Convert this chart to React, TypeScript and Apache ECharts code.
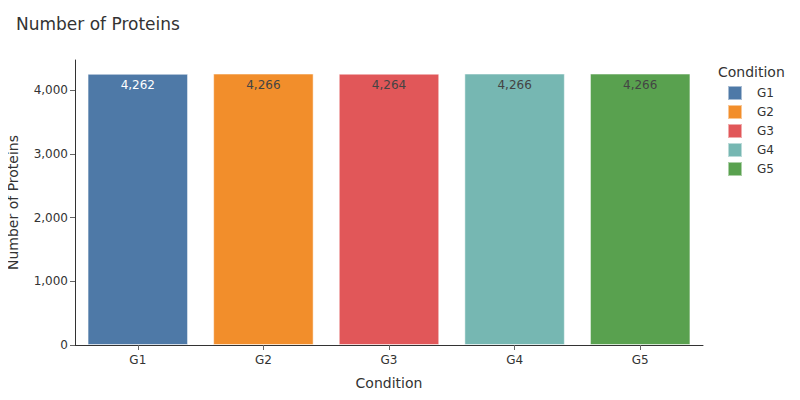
import React, { useEffect, useRef } from "react";
import * as echarts from "echarts";

const categories = ["G1", "G2", "G3", "G4", "G5"];
const values = [4262, 4266, 4264, 4266, 4266];
const colors = ["#4E79A7", "#F28E2B", "#E15759", "#76B7B2", "#59A14F"];
const labelColors = ["#ffffff", "#444444", "#444444", "#444444", "#444444"];
const yTicks = [0, 1000, 2000, 3000, 4000];
const yMax = 4479;

const FONT = "DejaVu Sans";

export default function App() {
  const ref = useRef<HTMLDivElement>(null);
  useEffect(() => {
    if (!ref.current) return;
    const chart = echarts.init(ref.current, undefined, { renderer: "svg" });
    const series = categories.map((c, i) => ({
      name: c,
      type: "bar",
      stack: "all",
      barWidth: "80%",
      data: categories.map((_, j) => (j === i ? values[i] : "-")),
      itemStyle: {
        color: colors[i],
        borderColor: "rgba(255,255,255,0.5)",
        borderWidth: 1,
      },
      label: {
        show: true,
        position: "insideTop",
        distance: 5,
        color: labelColors[i],
        fontFamily: FONT,
        fontSize: 12,
        formatter: (p: any) => Number(p.value).toLocaleString("en-US"),
      },
    }));
    chart.setOption({
      animation: false,
      textStyle: { fontFamily: FONT },
      title: {
        text: "Number of Proteins",
        left: 16,
        top: 15,
        padding: 0,
        textStyle: { fontFamily: FONT, fontSize: 17, fontWeight: "normal", color: "#333" },
      },
      legend: {
        orient: "vertical",
        left: 722,
        top: 80,
        icon: "rect",
        itemWidth: 14,
        itemHeight: 14,
        itemGap: 3,
        data: categories,
        textStyle: { fontFamily: FONT, fontSize: 12, color: "#333", padding: [0, 0, 0, 10], lineHeight: 14 },
      },
      graphic: [
        {
          type: "text",
          left: 718,
          top: 65,
          style: { text: "Condition", font: `14px "${FONT}"`, fill: "#333" },
        },
      ],
      grid: { left: 75, right: 97, top: 60, bottom: 55, containLabel: false, outerBoundsMode: "none" },
      xAxis: {
        type: "category",
        data: categories,
        name: "Condition",
        nameLocation: "middle",
        nameGap: 31,
        nameTextStyle: { fontFamily: FONT, fontSize: 14, color: "#333" },
        axisLine: { show: true, lineStyle: { color: "#333", width: 1 } },
        axisTick: { show: true, alignWithLabel: true, length: 5, lineStyle: { color: "#666" } },
        axisLabel: { fontFamily: FONT, fontSize: 12, color: "#333", margin: 9 },
        splitLine: { show: false },
      },
      yAxis: {
        type: "value",
        min: 0,
        max: yMax,
        name: "Number of Proteins",
        nameLocation: "middle",
        nameGap: 55,
        nameTextStyle: { fontFamily: FONT, fontSize: 14, color: "#333" },
        axisLine: { show: true, lineStyle: { color: "#333", width: 1 } },
        axisTick: { show: true, length: 5, lineStyle: { color: "#666" }, customValues: yTicks },
        axisLabel: {
          fontFamily: FONT,
          fontSize: 12,
          color: "#333",
          margin: 7,
          customValues: yTicks,
          formatter: (v: number) => v.toLocaleString("en-US"),
        },
        splitLine: { show: false },
      },
      series,
    });
    return () => chart.dispose();
  }, []);
  return <div ref={ref} style={{ width: 800, height: 400, marginLeft: -8, marginTop: -8 }} />;
}
